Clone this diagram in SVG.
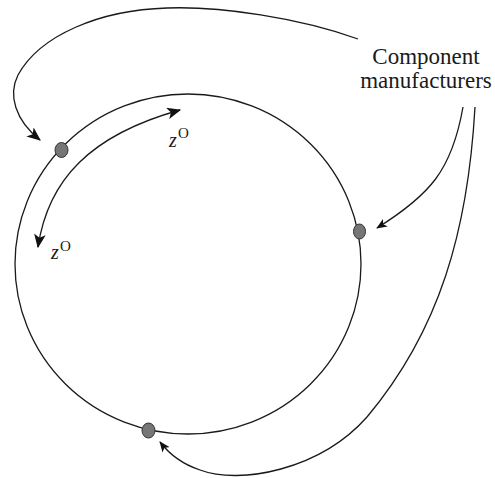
<svg xmlns="http://www.w3.org/2000/svg" width="495" height="478" viewBox="0 0 495 478">
<style>
.line{fill:none;stroke:#1a1a1a;stroke-width:1.3}
.dot{fill:#767676;stroke:#333;stroke-width:1}
text{fill:#1a1a1a}
</style>
<defs>
<marker id="ah" viewBox="0 0 12 10" refX="11" refY="5" markerUnits="userSpaceOnUse" markerWidth="14" markerHeight="12" orient="auto-start-reverse">
<path d="M0,0 L12,5 L0,10 L3,5 z" fill="#111"/>
</marker>
<marker id="ahs" viewBox="0 0 12 10" refX="11" refY="5" markerUnits="userSpaceOnUse" markerWidth="11" markerHeight="9" orient="auto">
<path d="M0,0 L12,5 L0,10 L3,5 z" fill="#111"/>
</marker>
</defs>
<rect width="495" height="478" fill="#fff"/>
<g id="cycle">
<ellipse class="line" cx="188" cy="264" rx="173" ry="170"/>
</g>
<g id="connectors">
<path class="line" d="M358,39 C300,18 220,6 167,8 C100,10 40,35 18,75 C8,95 15,120 40,140" marker-end="url(#ah)"/>
<path class="line" d="M463,107 C452,170 430,195 377,228" marker-end="url(#ahs)"/>
<path class="line" d="M475,107 C468,230 440,330 367,417 C320,470 240,485 200,470 C185,465 170,455 160,442" marker-end="url(#ahs)"/>
<path class="line" d="M38,247 C48,180 90,135 180,110" marker-start="url(#ah)" marker-end="url(#ah)"/>
</g>
<g id="node-top"><ellipse class="dot" cx="61.5" cy="150" rx="6.5" ry="7.5"/></g>
<g id="node-right"><ellipse class="dot" cx="359.5" cy="231.5" rx="6" ry="7.5"/></g>
<g id="node-bottom"><ellipse class="dot" cx="148.5" cy="430.5" rx="6.5" ry="7.5"/></g>
<g id="label-manufacturers" font-family="Liberation Serif, DejaVu Serif, serif" font-size="23" text-anchor="middle">
<text x="426" y="64">Component</text>
<text x="426" y="88">manufacturers</text>
</g>
<g id="label-z1" font-family="Liberation Serif, DejaVu Serif, serif">
<text x="169" y="147" font-size="20" font-style="italic">z</text>
<text x="178" y="138" font-size="15">O</text>
</g>
<g id="label-z2" font-family="Liberation Serif, DejaVu Serif, serif">
<text x="51" y="259" font-size="20" font-style="italic">z</text>
<text x="60" y="251" font-size="15">O</text>
</g>
</svg>
